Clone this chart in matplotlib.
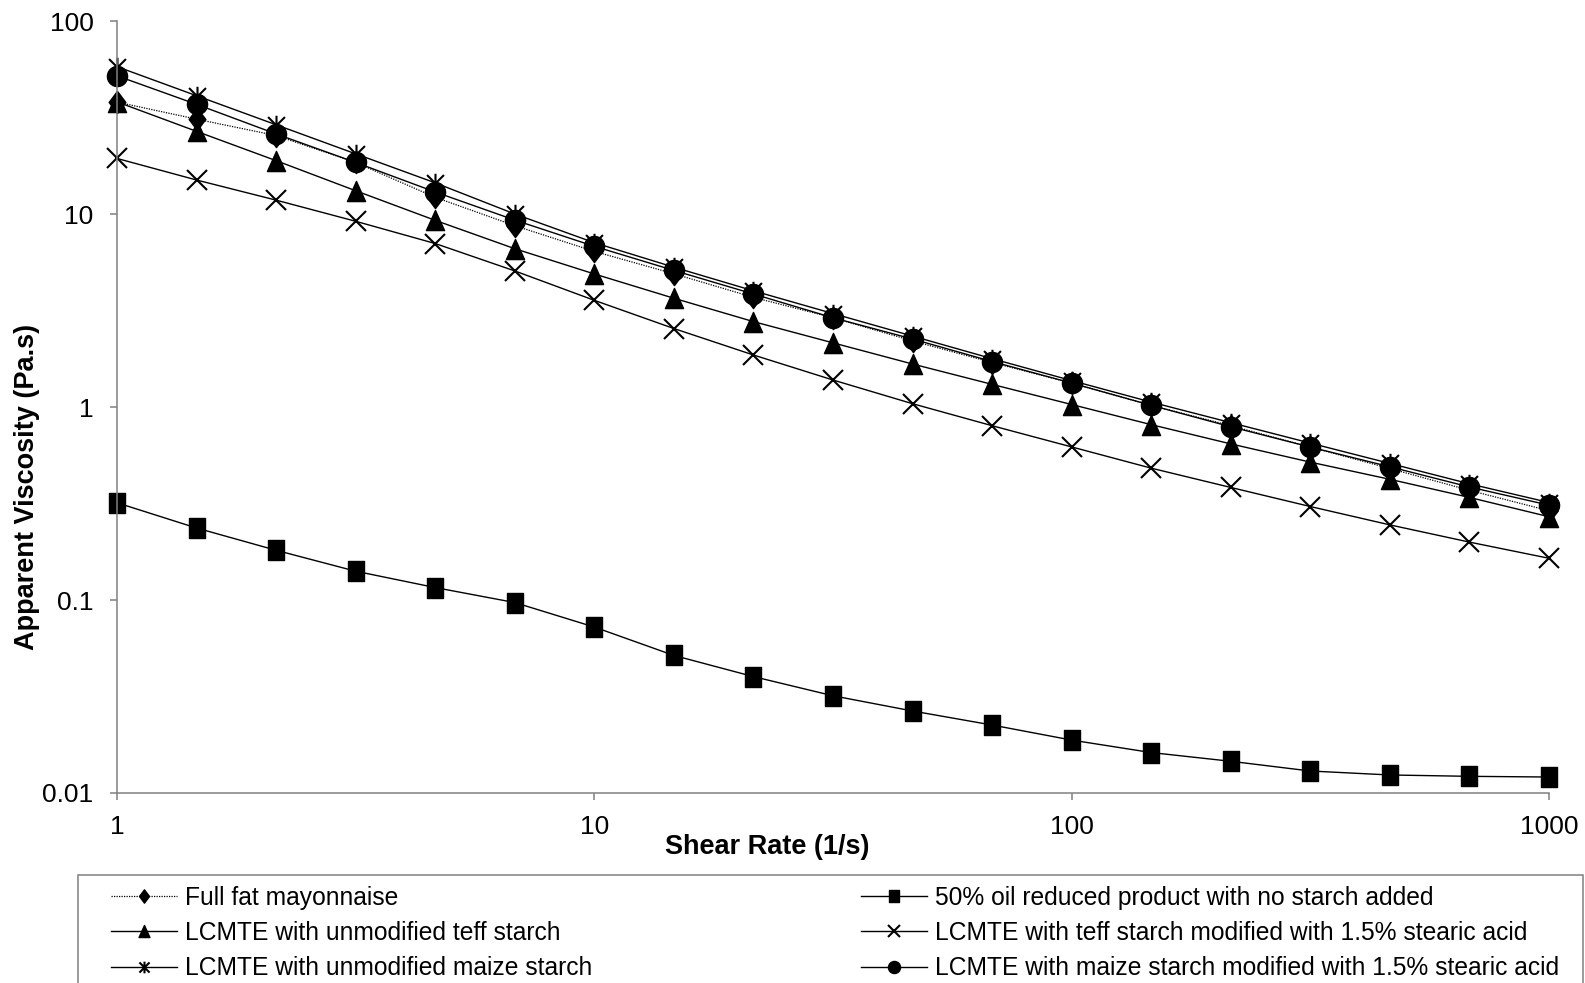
import numpy as np
import matplotlib
matplotlib.use("Agg")
import matplotlib.pyplot as plt
from matplotlib.path import Path
from matplotlib.patches import Rectangle
from matplotlib.ticker import FixedLocator, NullLocator

plt.rcParams['font.family'] = ['Liberation Sans', 'DejaVu Sans']

# shear rate (1/s), 6 points per decade
shear_rate = [1, 1.468, 2.154, 3.162, 4.642, 6.813, 10, 14.68, 21.54, 31.62,
              46.42, 68.13, 100, 146.8, 215.4, 316.2, 464.2, 681.3, 1000]

full_fat = [38, 31, 25.5, 18.5, 12.2, 8.7, 6.4, 4.9, 3.7, 2.9,
            2.2, 1.7, 1.33, 1.02, 0.80, 0.62, 0.48, 0.37, 0.29]
oil_reduced = [0.319, 0.236, 0.181, 0.141, 0.116, 0.097, 0.0724, 0.0516, 0.0401, 0.0319,
               0.0266, 0.0225, 0.0188, 0.0162, 0.0146, 0.0130, 0.0124, 0.0122, 0.0121]
teff_unmod = [38.1, 26.8, 18.9, 13.2, 9.27, 6.61, 4.89, 3.66, 2.77, 2.15,
              1.67, 1.31, 1.03, 0.81, 0.644, 0.518, 0.422, 0.340, 0.270]
teff_mod = [19.4, 15.0, 11.8, 9.17, 7.03, 5.07, 3.57, 2.55, 1.86, 1.38,
            1.04, 0.80, 0.621, 0.482, 0.383, 0.305, 0.245, 0.1995, 0.1645]
maize_unmod = [58, 41, 29, 20.5, 14.5, 10.0, 7.1, 5.3, 4.0, 3.05,
               2.33, 1.78, 1.37, 1.06, 0.83, 0.65, 0.51, 0.40, 0.32]
maize_mod = [52, 37, 26, 18.5, 13.0, 9.3, 6.8, 5.1, 3.85, 2.9,
             2.25, 1.72, 1.33, 1.02, 0.79, 0.62, 0.49, 0.385, 0.31]

labels = ["Full fat mayonnaise",
          "50% oil reduced product with no starch added",
          "LCMTE with unmodified teff starch",
          "LCMTE with teff starch modified with 1.5% stearic acid",
          "LCMTE with unmodified maize starch",
          "LCMTE with maize starch modified with 1.5% stearic acid"]

x_ticks = [1, 10, 100, 1000]
x_ticklabels = ["1", "10", "100", "1000"]
y_ticks = [0.01, 0.1, 1, 10, 100]
y_ticklabels = ["0.01", "0.1", "1", "10", "100"]

# Excel-like marker shapes (a bit narrower than tall)
star = Path([(-1, -1), (1, 1), (-1, 1), (1, -1), (0, -1.15), (0, 1.15)],
            [Path.MOVETO, Path.LINETO, Path.MOVETO, Path.LINETO, Path.MOVETO, Path.LINETO])
rect = Path([(-0.75, -1), (0.75, -1), (0.75, 1), (-0.75, 1), (-0.75, -1)], closed=True)
tri = Path([(0, 1), (-0.9, -1), (0.9, -1), (0, 1)], closed=True)
diamond = Path([(0, 1), (0.75, 0), (0, -1), (-0.75, 0), (0, 1)], closed=True)


def main():
    fig = plt.figure(figsize=(15.85, 9.83), dpi=100)
    ax = fig.add_axes([117 / 1585, 1 - 793 / 983, (1549 - 117) / 1585, (793 - 21) / 983])

    kw = dict(color='black', lw=1, clip_on=False)
    h_ff, = ax.plot(shear_rate, full_fat, ls=(0, (1, 1)), marker=diamond, ms=16,
                    mfc='black', mec='black', color='black', lw=0.9, clip_on=False)
    h_or, = ax.plot(shear_rate, oil_reduced, marker=rect, ms=14.5,
                    mfc='black', mec='black', **kw)
    h_tu, = ax.plot(shear_rate, teff_unmod, marker=tri, ms=14.5,
                    mfc='black', mec='black', **kw)
    h_tm, = ax.plot(shear_rate, teff_mod, marker='x', ms=14, mew=1.5, mec='black', **kw)
    h_mu, = ax.plot(shear_rate, maize_unmod, marker=star, ms=14, mew=1.5, mec='black', **kw)
    h_mm, = ax.plot(shear_rate, maize_mod, marker='o', ms=14.5,
                    mfc='black', mec='black', **kw)

    ax.set_xscale('log')
    ax.set_yscale('log')
    ax.set_xlim(1, 1000)
    ax.set_ylim(0.01, 100)
    ax.xaxis.set_major_locator(FixedLocator(x_ticks))
    ax.xaxis.set_minor_locator(NullLocator())
    ax.yaxis.set_major_locator(FixedLocator(y_ticks))
    ax.yaxis.set_minor_locator(NullLocator())
    ax.set_xticklabels(x_ticklabels)
    ax.set_yticklabels(y_ticklabels)
    ax.tick_params(axis='both', direction='out', length=5, width=1.1, color='#808080',
                   labelsize=19)
    ax.tick_params(axis='x', pad=11)
    ax.tick_params(axis='y', pad=12)

    for s in ['top', 'right']:
        ax.spines[s].set_visible(False)
    for s in ['left', 'bottom']:
        ax.spines[s].set_color('#808080')
        ax.spines[s].set_linewidth(1.1)

    ax.set_xlabel("Shear Rate (1/s)", fontsize=19.5, fontweight='bold')
    ax.xaxis.set_label_coords(0.454, -0.053)
    ax.set_ylabel("Apparent Viscosity (Pa.s)", fontsize=19.5, fontweight='bold')
    ax.yaxis.set_label_coords(-0.0538, 0.397)

    # legend: two columns placed separately inside one box
    leg_kw = dict(loc='upper left', fontsize=17.7, frameon=False, handlelength=2.7,
                  handletextpad=0.33, labelspacing=0.46, borderpad=0, borderaxespad=0,
                  markerscale=0.6)
    top = 1 - 885.5 / 983
    fig.legend([h_ff, h_tu, h_mu], [labels[0], labels[2], labels[4]],
               bbox_to_anchor=(111 / 1585, top), **leg_kw)
    fig.legend([h_or, h_tm, h_mm], [labels[1], labels[3], labels[5]],
               bbox_to_anchor=(861 / 1585, top), **leg_kw)
    fig.patches.append(Rectangle((78 / 1585, -0.01), (1583 - 78) / 1585, 0.01 + (983 - 875) / 983,
                                 transform=fig.transFigure, fill=False,
                                 edgecolor='#808080', lw=1.1))

    fig.savefig("out.png", dpi=100)
    plt.close(fig)


if __name__ == "__main__":
    main()
